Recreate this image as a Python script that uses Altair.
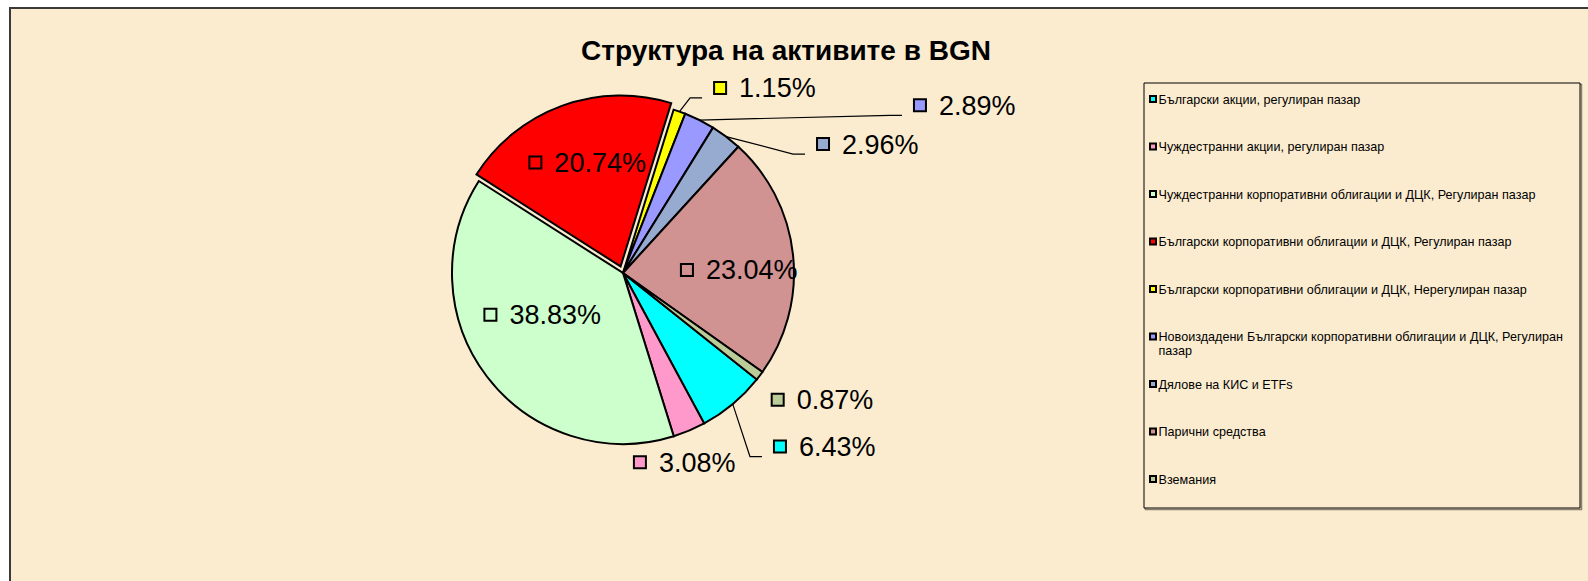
import math
import altair as alt
import pandas as pd

# ---------------- data ----------------
categories = [
    "Български акции, регулиран пазар",
    "Чуждестранни акции, регулиран пазар",
    "Чуждестранни корпоративни облигации и ДЦК, Регулиран пазар",
    "Български корпоративни облигации и ДЦК, Регулиран пазар",
    "Български корпоративни облигации и ДЦК, Нерегулиран пазар",
    "Новоиздадени Български корпоративни облигации и ДЦК, Регулиран пазар",
    "Дялове на КИС и ETFs",
    "Парични средства",
    "Вземания",
]
legend_labels = [
    "Български акции, регулиран пазар",
    "Чуждестранни акции, регулиран пазар",
    "Чуждестранни корпоративни облигации и ДЦК, Регулиран пазар",
    "Български корпоративни облигации и ДЦК, Регулиран пазар",
    "Български корпоративни облигации и ДЦК, Нерегулиран пазар",
    "Новоиздадени Български корпоративни облигации и ДЦК, Регулиран\nпазар",
    "Дялове на КИС и ETFs",
    "Парични средства",
    "Вземания",
]
shares = [6.43, 3.08, 38.83, 20.74, 1.15, 2.89, 2.96, 23.04, 0.87]
colors = ["#00FFFF", "#FF99CC", "#CCFFCC", "#FF0000", "#FFFF00",
          "#9999FF", "#97AACF", "#D19292", "#BBCC99"]
exploded = "Български корпоративни облигации и ДЦК, Регулиран пазар"
title_text = "Структура на активите в BGN"

# ---------------- layout ----------------
W, H = 1588, 581
FONT = "Liberation Sans"
BG = "#FBECD0"
CX, CY, R = 623, 273, 171
START_DEG = 128.5
EXPLODE = 7
# label placement relative to slice mid-angle: (angle shift in degrees, radius px)
label_layout = [(-2.2, 234), (17.7, 190), (19.9, 139), (-18.3, 141), (8.4, 209),
                (34.0, 341), (20.1, 238), (3.4, 64), (2.4, 200)]
leader = [True, False, False, False, True, True, True, False, False]
LEG_BOX = (1144, 83, 1580, 508)
LEG_Y0, LEG_STEP = 99, 47.5
LEG_MX, LEG_TX = 1153, 1158.5

# ---------------- derived tables ----------------
total = sum(shares)
rows, lead_rows = [], []
cum = 0.0
for i, (c, v) in enumerate(zip(categories, shares)):
    s, e = cum, cum + v
    cum = e
    mid = START_DEG + (s + e) / 2 / total * 360
    sh, rr = label_layout[i]
    a = math.radians(mid + sh)
    lx = CX + rr * math.sin(a)
    ly = CY - rr * math.cos(a)
    rows.append(dict(cat=c, start=s, end=e, mid=mid, lx=lx, ly=ly,
                     lab=f"{v:.2f}%", leg=legend_labels[i],
                     lgx=LEG_MX, lgtx=LEG_TX, lgy=LEG_Y0 + i * LEG_STEP))
    if leader[i]:
        am = math.radians(mid)
        pts = [(CX + R * math.sin(am), CY - R * math.cos(am)),
               (lx - 30, ly + 10), (lx - 18, ly + 10)]
        for k, (px, py) in enumerate(pts):
            lead_rows.append(dict(cat=c, k=k, px=px, py=py))
df = pd.DataFrame(rows)
lead = pd.DataFrame(lead_rows)

xs = alt.Scale(domain=[0, W], nice=False, zero=False)
ys = alt.Scale(domain=[0, H], nice=False, zero=False, reverse=True)
a0 = math.radians(START_DEG)
theta_scale = alt.Scale(domain=[0, total], range=[a0, a0 + 2 * math.pi])
color = alt.Color("cat:N", scale=alt.Scale(domain=categories, range=colors), legend=None)

one = pd.DataFrame({"a": [0]})
bg = alt.Chart(one).mark_rect(fill=BG, stroke="#3a3a3a", strokeWidth=2).encode(
    x=alt.value(10), x2=alt.value(W + 20), y=alt.value(8), y2=alt.value(H + 20))

base = alt.Chart(df)
arc_enc = dict(theta=alt.Theta("start:Q", scale=theta_scale, stack=None),
               theta2="end:Q", color=color)
pie = base.transform_filter(alt.datum.cat != exploded).mark_arc(
    radius=R, stroke="black", strokeWidth=2).encode(
    x=alt.value(CX), y=alt.value(CY), **arc_enc)
red_mid = math.radians(df.loc[df.cat == exploded, "mid"].iloc[0])
red = base.transform_filter(alt.datum.cat == exploded).mark_arc(
    radius=R, stroke="black", strokeWidth=2).encode(
    x=alt.value(CX + EXPLODE * math.sin(red_mid)),
    y=alt.value(CY - EXPLODE * math.cos(red_mid)), **arc_enc)

lines = alt.Chart(lead).mark_line(color="black", strokeWidth=1.2).encode(
    x=alt.X("px:Q", scale=xs, axis=None), y=alt.Y("py:Q", scale=ys, axis=None),
    detail="cat:N", order="k:Q")

lab_sq = base.mark_square(size=144, stroke="black", strokeWidth=2, opacity=1).encode(
    x=alt.X("lx:Q", scale=xs, axis=None), y=alt.Y("ly:Q", scale=ys, axis=None), color=color)
lab_tx = base.mark_text(align="left", baseline="alphabetic", dx=19, dy=9.5,
                        fontSize=27, font=FONT, color="black").encode(
    x=alt.X("lx:Q", scale=xs, axis=None), y=alt.Y("ly:Q", scale=ys, axis=None), text="lab:N")

title = alt.Chart(one).mark_text(text=title_text, fontSize=28, fontWeight="bold",
                                 font=FONT, color="black", align="center",
                                 baseline="alphabetic").encode(
    x=alt.value(786), y=alt.value(60))

x0, y0, x1, y1 = LEG_BOX
leg_shadow = alt.Chart(one).mark_rect(fill="none", stroke="#8a8070", strokeWidth=1.5).encode(
    x=alt.value(x0 + 1.5), x2=alt.value(x1 + 1.5), y=alt.value(y0 + 1.5), y2=alt.value(y1 + 1.5))
leg_box = alt.Chart(one).mark_rect(fill=BG, stroke="black", strokeWidth=1).encode(
    x=alt.value(x0), x2=alt.value(x1), y=alt.value(y0), y2=alt.value(y1))
leg_sq = base.mark_square(size=36, stroke="black", strokeWidth=2, opacity=1).encode(
    x=alt.X("lgx:Q", scale=xs, axis=None), y=alt.Y("lgy:Q", scale=ys, axis=None), color=color)
leg_tx = base.mark_text(align="left", baseline="alphabetic", dy=4.5, fontSize=12.6,
                        font=FONT, color="black", lineBreak="\n", lineHeight=14).encode(
    x=alt.X("lgtx:Q", scale=xs, axis=None), y=alt.Y("lgy:Q", scale=ys, axis=None), text="leg:N")

chart = alt.layer(bg, pie, red, lines, lab_sq, lab_tx, title,
                  leg_shadow, leg_box, leg_sq, leg_tx).properties(
    width=W, height=H, autosize=alt.AutoSizeParams(type="none"), padding=0,
    background="white").configure_view(stroke=None)

chart.save("out.html", embed_options={"renderer": "svg", "actions": False})
